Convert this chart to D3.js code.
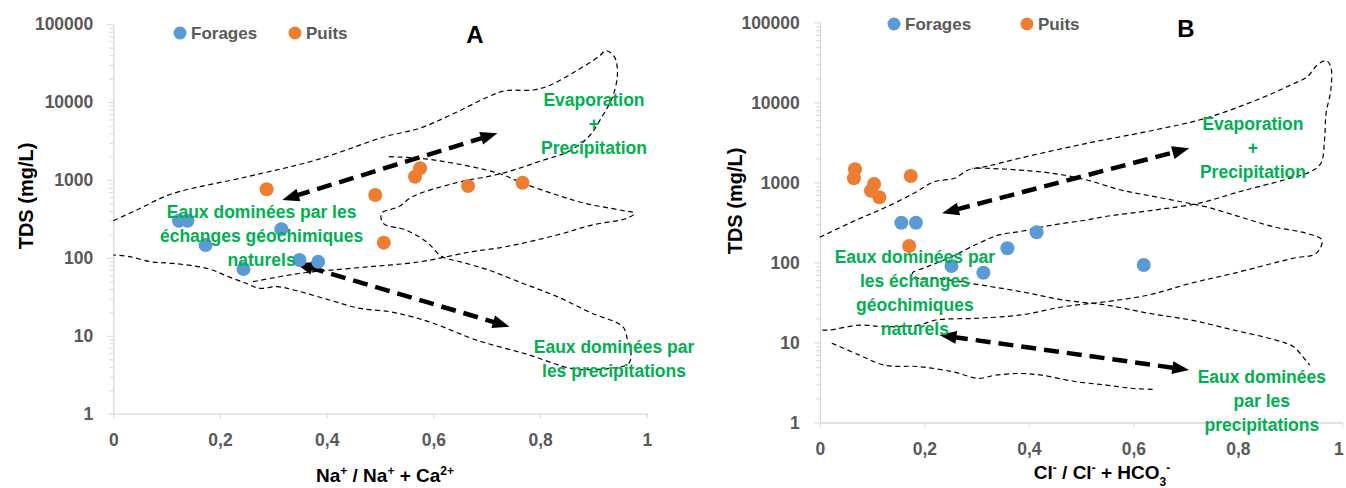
<!DOCTYPE html>
<html><head><meta charset="utf-8">
<script src="https://cdn.jsdelivr.net/npm/d3@7"></script>
<style>
html,body{margin:0;padding:0;background:#fff;}
svg{display:block;font-family:"Liberation Sans",Arial,sans-serif;}
</style></head>
<body>
<svg id="chart" width="1346" height="488"></svg>
<script>
// ---------- DATA ----------
const yTicks = [1, 10, 100, 1000, 10000, 100000];
const xTicks = [0, 0.2, 0.4, 0.6, 0.8, 1];
const seriesNames = ["Forages", "Puits"];

// Panel A : Na+/(Na+ + Ca2+) vs TDS
const forA_ratio = [0.123, 0.139, 0.315, 0.173, 0.244, 0.349, 0.384];
const forA_tds   = [300, 300, 233, 146, 72, 94, 89];
const puiA_ratio = [0.2875, 0.491, 0.5655, 0.575, 0.665, 0.767, 0.507];
const puiA_tds   = [760, 642, 1102, 1414, 838, 923, 157];

// Panel B : Cl-/(Cl- + HCO3-) vs TDS
const forB_ratio = [0.156, 0.184, 0.415, 0.359, 0.252, 0.313, 0.620];
const forB_tds   = [314, 314, 239, 151, 90.4, 74.6, 93];
const puiB_ratio = [0.0674, 0.0653, 0.104, 0.0978, 0.114, 0.174, 0.171];
const puiB_tds   = [1462, 1129, 958, 790, 653, 1206, 161];

// Gibbs boundaries [ratio, TDS]
const contourA1 = [[0,300],[0.044,412],[0.109,661],[0.251,1102],[0.380,1807],[0.509,3595],[0.574,4615],[0.639,7180],[0.703,11720],[0.735,14000],[0.787,14300],[0.82,16600],[0.865,24550],[0.91,38300],[0.923,45700],[0.939,38300],[0.945,23400],[0.936,11740],[0.916,6500],[0.891,3595],[0.852,2307],[0.807,1807],[0.729,1219],[0.639,908],[0.561,611],[0.535,454],[0.503,374],[0.506,278],[0.548,228],[0.587,161],[0.616,104],[0.651,89],[0.703,70],[0.768,47],[0.832,31.8],[0.897,19.5],[0.955,13.1],[0.964,8.8],[0.970,6.6],[0.966,4.4],[0.925,3.8],[0.86,3.8],[0.779,5.7],[0.681,8.8],[0.6,14.5],[0.559,17.6],[0.518,20.4],[0.462,22.5],[0.405,28.8],[0.339,38.7],[0.307,42.7],[0.274,40.7],[0.25,47],[0.217,57],[0.177,73],[0.112,85],[0.071,89],[0.03,104],[0,109]];
const contourA2 = [[0.262,49.5],[0.348,63],[0.445,73.5],[0.574,89],[0.671,120],[0.735,139],[0.832,197],[0.897,264],[0.962,322],[0.977,374],[0.949,412],[0.884,502],[0.832,641],[0.768,907],[0.722,1219],[0.639,1637],[0.574,1900],[0.512,1995]];
const contourB1 = [[0,207],[0.070,340],[0.122,476],[0.180,733],[0.219,1023],[0.258,1129],[0.284,1432],[0.317,1577],[0.382,2008],[0.511,3090],[0.641,4530],[0.738,6350],[0.836,10740],[0.901,16550],[0.933,21000],[0.952,29400],[0.969,33300],[0.978,28000],[0.978,14330],[0.969,7330],[0.966,3400],[0.959,1738],[0.939,1365],[0.888,1075],[0.803,767],[0.725,550],[0.641,453],[0.544,374],[0.511,340],[0.446,294],[0.382,243],[0.343,221],[0.304,174],[0.252,118],[0.206,88.7],[0.177,73.3],[0.187,63.5],[0.222,63.5],[0.287,55],[0.385,43.2],[0.466,34],[0.548,29.4],[0.629,23.2],[0.710,19.1],[0.792,14.3],[0.873,10.7],[0.906,8.9],[0.930,6.0],[0.938,5.2]];
const contourB2 = [[0.005,14.3],[0.019,14.3],[0.075,16.5],[0.124,15.8],[0.189,16.5],[0.222,19.1],[0.303,20.1],[0.385,22.1],[0.466,28],[0.548,32.4],[0.629,39.2],[0.710,55],[0.792,73.3],[0.906,113],[0.950,130],[0.961,191],[0.931,232],[0.868,280],[0.803,374],[0.738,499],[0.706,550],[0.641,665],[0.576,806],[0.511,1075],[0.446,1303],[0.381,1432],[0.317,1506],[0.291,1506]];
const contourB3 = [[0.023,9.8],[0.075,7.0],[0.124,5.2],[0.189,5.0],[0.255,4.3],[0.303,3.57],[0.336,3.9],[0.385,4.1],[0.425,3.9],[0.490,3.24],[0.548,2.94],[0.596,2.68],[0.637,2.6]];

// Trend arrows [[ratio,TDS],[ratio,TDS]]
const arrowsA = [[[0.3166,554],[0.72,3980]], [[0.3425,85],[0.7427,13.1]]];
const arrowsB = [[[0.234,412],[0.707,2676]], [[0.229,12.4],[0.707,4.53]]];

// Annotation texts and anchors [ratio, TDS]
const evapLines = ["Evaporation", "+", "Precipitation"];
const exchA = ["Eaux dominées par les", "échanges géochimiques", "naturels"];
const precA = ["Eaux dominées par", "les precipitations"];
const exchB = ["Eaux dominées par", "les échanges", "géochimiques", "naturels"];
const precB = ["Eaux dominées", "par les", "precipitations"];
const annoA = [[0.901, 8900], [0.278, 322], [0.9385, 5.96]];
const annoB = [[0.829, 4530], [0.182, 98.6], [0.846, 3.14]];

// ---------- DRAW ----------
const svg = d3.select("#chart");
const BLUE = "#5b9bd5", ORANGE = "#ed7d31", GREEN = "#00b050", AXIS = "#d9d9d9", TICK = "#595959";

function panel(o) {
  const g = svg.append("g");
  const x = d3.scaleLinear().domain([0, 1]).range(o.xr);
  const y = d3.scaleLog().domain([1, 100000]).range(o.yr);

  // minor ticks
  const minor = [];
  for (let d = 1; d < 100000; d *= 10) for (let k = 2; k <= 9; k++) minor.push(d * k);
  g.append("g").attr("transform", `translate(${o.xr[0]},0)`)
    .call(d3.axisLeft(y).tickValues(minor).tickSize(4).tickFormat(""))
    .call(a => a.select(".domain").remove())
    .call(a => a.selectAll("line").attr("stroke", AXIS));
  // major y axis
  g.append("g").attr("transform", `translate(${o.xr[0]},0)`)
    .call(d3.axisLeft(y).tickValues(yTicks).tickSize(6).tickSizeOuter(0).tickPadding(14).tickFormat(d3.format("d")))
    .call(a => a.select(".domain").attr("stroke", AXIS).attr("stroke-width", 1.3))
    .call(a => a.selectAll("line").attr("stroke", AXIS))
    .call(a => a.selectAll("text").attr("fill", TICK).attr("font-size", 17.5).attr("font-weight", "bold")
      .attr("font-family", "Liberation Sans, Arial, sans-serif"));
  // x axis
  g.append("g").attr("transform", `translate(0,${o.yr[0]})`)
    .call(d3.axisBottom(x).tickValues(xTicks).tickSize(5).tickSizeOuter(0).tickPadding(15)
      .tickFormat(d => String(d).replace(".", ",")))
    .call(a => a.select(".domain").attr("stroke", AXIS).attr("stroke-width", 1.3))
    .call(a => a.selectAll("line").attr("stroke", AXIS))
    .call(a => a.selectAll("text").attr("fill", TICK).attr("font-size", 17.5).attr("font-weight", "bold")
      .attr("font-family", "Liberation Sans, Arial, sans-serif")
      .attr("dx", d => (d === 1 && o.xr[1] > 1330) ? -4 : 0));

  // contours
  const line = d3.line().x(d => x(d[0])).y(d => y(d[1])).curve(d3.curveCatmullRom.alpha(0.5));
  o.contours.forEach(c => g.append("path").attr("d", line(c)).attr("fill", "none")
    .attr("stroke", "#000").attr("stroke-width", 1.2).attr("stroke-dasharray", "5,3.5"));

  // arrows
  o.arrows.forEach(a => {
    const p0 = [x(a[0][0]), y(a[0][1])], p1 = [x(a[1][0]), y(a[1][1])];
    const dx = p1[0] - p0[0], dy = p1[1] - p0[1], L = Math.hypot(dx, dy);
    const u = [dx / L, dy / L], n = [-u[1], u[0]];
    const hl = 17, hw = 13;
    g.append("line")
      .attr("x1", p0[0] + u[0] * hl * 0.8).attr("y1", p0[1] + u[1] * hl * 0.8)
      .attr("x2", p1[0] - u[0] * hl * 0.8).attr("y2", p1[1] - u[1] * hl * 0.8)
      .attr("stroke", "#000").attr("stroke-width", 4.5).attr("stroke-dasharray", "15,8");
    const head = (tip, dir) => {
      const b = [tip[0] - dir[0] * hl, tip[1] - dir[1] * hl];
      return [tip, [b[0] + n[0] * hw / 2, b[1] + n[1] * hw / 2], [b[0] - n[0] * hw / 2, b[1] - n[1] * hw / 2]];
    };
    [head(p1, u), head(p0, [-u[0], -u[1]])].forEach(pts =>
      g.append("polygon").attr("points", pts.map(p => p.join(",")).join(" ")).attr("fill", "#000"));
  });

  // points
  const pts = (xs, ys, col) => g.append("g").selectAll("circle").data(xs.map((v, i) => [v, ys[i]]))
    .join("circle").attr("cx", d => x(d[0])).attr("cy", d => y(d[1])).attr("r", 7).attr("fill", col);
  pts(o.forX, o.forY, BLUE);
  pts(o.puiX, o.puiY, ORANGE);

  // annotations
  const anno = (lines, anchor) => {
    const t = g.append("text").attr("text-anchor", "middle").attr("fill", GREEN)
      .attr("font-size", 17.5).attr("font-weight", "bold");
    lines.forEach((s, i) => t.append("tspan").attr("x", x(anchor[0])).attr("y", y(anchor[1]) + i * 24).text(s));
  };
  anno(evapLines, o.anno[0]);
  anno(o.exch, o.anno[1]);
  anno(o.prec, o.anno[2]);

  // legend
  const lg = g.append("g").attr("font-size", 17).attr("font-weight", "bold").attr("fill", TICK);
  [[BLUE, seriesNames[0], o.leg[0]], [ORANGE, seriesNames[1], o.leg[1]]].forEach(([c, s, lx]) => {
    lg.append("circle").attr("cx", lx).attr("cy", o.legY).attr("r", 6.5).attr("fill", c);
    lg.append("text").attr("x", lx + 11).attr("y", o.legY + 6).text(s);
  });

  // panel letter
  g.append("text").attr("x", o.letter[0]).attr("y", o.letter[1]).attr("text-anchor", "middle")
    .attr("font-size", 24).attr("font-weight", "bold").attr("fill", "#000").text(o.name);

  // y title
  g.append("text").attr("transform", `translate(${o.yTitle[0]},${o.yTitle[1]}) rotate(-90)`)
    .attr("text-anchor", "middle").attr("font-size", 20).attr("font-weight", "bold").attr("fill", "#000")
    .text("TDS (mg/L)");

  // x title
  const xt = g.append("text").attr("x", o.xTitle[0]).attr("y", o.xTitle[1]).attr("text-anchor", "middle")
    .attr("font-size", 19).attr("font-weight", "bold").attr("fill", "#000");
  o.xTitleParts.forEach(([s, k]) => {
    const ts = xt.append("tspan").text(s);
    if (k === "sup") ts.attr("font-size", 12).attr("baseline-shift", "super");
    if (k === "sub") ts.attr("font-size", 12).attr("baseline-shift", "sub");
  });
}

panel({
  name: "A", xr: [113.3, 646.8], yr: [413.7, 24.2],
  forX: forA_ratio, forY: forA_tds, puiX: puiA_ratio, puiY: puiA_tds,
  contours: [contourA1, contourA2], arrows: arrowsA,
  exch: exchA, prec: precA, anno: annoA,
  leg: [180, 295], legY: 33, letter: [475, 43],
  yTitle: [33, 196], xTitle: [385, 482],
  xTitleParts: [["Na", ""], ["+", "sup"], [" / Na", ""], ["+", "sup"], [" + Ca", ""], ["2+", "sup"]]
});
panel({
  name: "B", xr: [819.8, 1342.3], yr: [422.5, 22.5],
  forX: forB_ratio, forY: forB_tds, puiX: puiB_ratio, puiY: puiB_tds,
  contours: [contourB1, contourB2, contourB3], arrows: arrowsB,
  exch: exchB, prec: precB, anno: annoB,
  leg: [894, 1027], legY: 24, letter: [1186, 37],
  yTitle: [742, 201], xTitle: [1102, 479],
  xTitleParts: [["Cl", ""], ["-", "sup"], [" / Cl", ""], ["-", "sup"], [" + HCO", ""], ["3", "sub"], ["-", "sup"]]
});
</script>
</body></html>
